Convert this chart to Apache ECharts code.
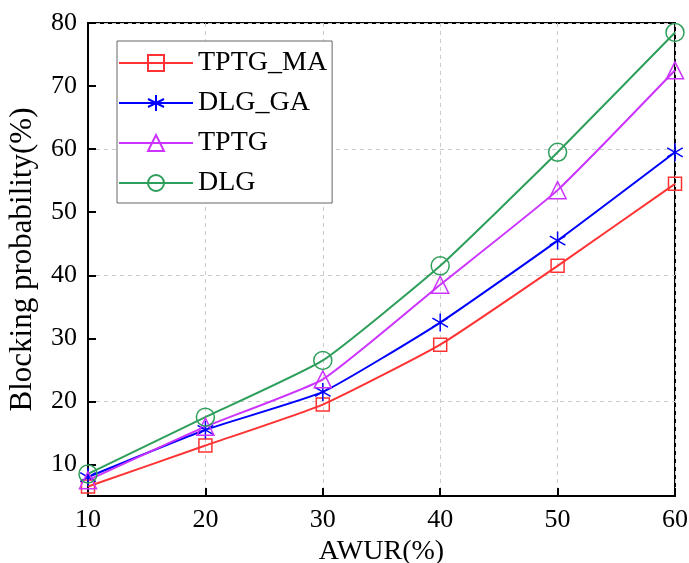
<!DOCTYPE html>
<html><head><meta charset="utf-8">
<script src="https://cdn.jsdelivr.net/npm/echarts@6/dist/echarts.min.js"></script>
<style>html,body{margin:0;padding:0;background:#fff}#c{width:689px;height:563px}</style>
</head><body><div id="c"></div>
<script>
const awur = [10, 20, 30, 40, 50, 60];
const tptgMa = [6.5, 13, 19.5, 29, 41.5, 54.5];
const dlgGa = [8, 15.5, 21.5, 32.5, 45.5, 59.5];
const tptg = [7.5, 16, 23.5, 38.5, 53.5, 72.5];
const dlg = [8.5, 17.5, 26.5, 41.5, 59.5, 78.5];
const yTicks = [10, 20, 30, 40, 50, 60, 70, 80];
const seriesNames = ['TPTG_MA', 'DLG_GA', 'TPTG', 'DLG'];

const FONT = '"Liberation Serif", "Times New Roman", serif';
const pair = ys => awur.map((x, i) => [x, ys[i]]);
const star = 'path://M10,0L10,20M1.34,5L18.66,15M1.34,15L18.66,5';

function mk(name, ys, color, symbol, size) {
  return {
    name, type: 'line', data: pair(ys), smooth: 0.15,
    symbol, symbolSize: size, symbolKeepAspect: true,
    lineStyle: { color, width: 2 },
    itemStyle: { color: 'transparent', borderColor: color, borderWidth: 1.5 },
    emphasis: { disabled: true }
  };
}

const chart = echarts.init(document.getElementById('c'));
chart.setOption({
  backgroundColor: '#fff',
  animation: false,
  grid: { left: 88, right: 14, top: 23, bottom: 67, outerBoundsMode: 'none', containLabel: false,
          show: true, borderColor: '#000', borderWidth: 2 },
  legend: {
    orient: 'vertical', left: 117, top: 41,
    data: seriesNames,
    itemWidth: 74, itemHeight: 20, itemGap: 12,
    padding: [8, 5, 6, 1],
    borderColor: '#666', borderWidth: 1, backgroundColor: '#fff',
    textStyle: { fontFamily: FONT, fontSize: 28, color: '#000', lineHeight: 27 }
  },
  xAxis: {
    type: 'value', min: 10, max: 60, interval: 10,
    name: 'AWUR(%)', nameLocation: 'middle', nameGap: 38,
    nameTextStyle: { fontFamily: FONT, fontSize: 28, color: '#000' },
    axisLine: { lineStyle: { color: '#000', width: 2 } },
    axisTick: { inside: true, length: 8, lineStyle: { color: '#000', width: 2 } },
    axisLabel: { fontFamily: FONT, fontSize: 26, color: '#000', margin: 11 },
    splitLine: { show: true, lineStyle: { color: '#cccccc', type: [4, 4], width: 1 } }
  },
  yAxis: {
    type: 'value', min: 5, max: 80, interval: 5,
    name: 'Blocking probability(%)', nameLocation: 'middle', nameGap: 50,
    nameTextStyle: { fontFamily: FONT, fontSize: 31, color: '#000' },
    axisLine: { show: true, lineStyle: { color: '#000', width: 2 } },
    axisTick: { show: true, inside: true, length: 8, customValues: yTicks, lineStyle: { color: '#000', width: 2 } },
    axisLabel: { fontFamily: FONT, fontSize: 26, color: '#000', margin: 11, customValues: yTicks },
    splitLine: { show: true, lineStyle: { color: ['transparent', '#cccccc'], type: [4, 4], width: 1 } }
  },
  series: [
    mk('TPTG_MA', tptgMa, '#ff3333', 'rect', 13),
    mk('DLG_GA', dlgGa, '#0000ff', star, 18),
    mk('TPTG', tptg, '#cc33ff', 'triangle', 17),
    mk('DLG', dlg, '#2e9e5b', 'circle', 18)
  ]
});
</script></body></html>
